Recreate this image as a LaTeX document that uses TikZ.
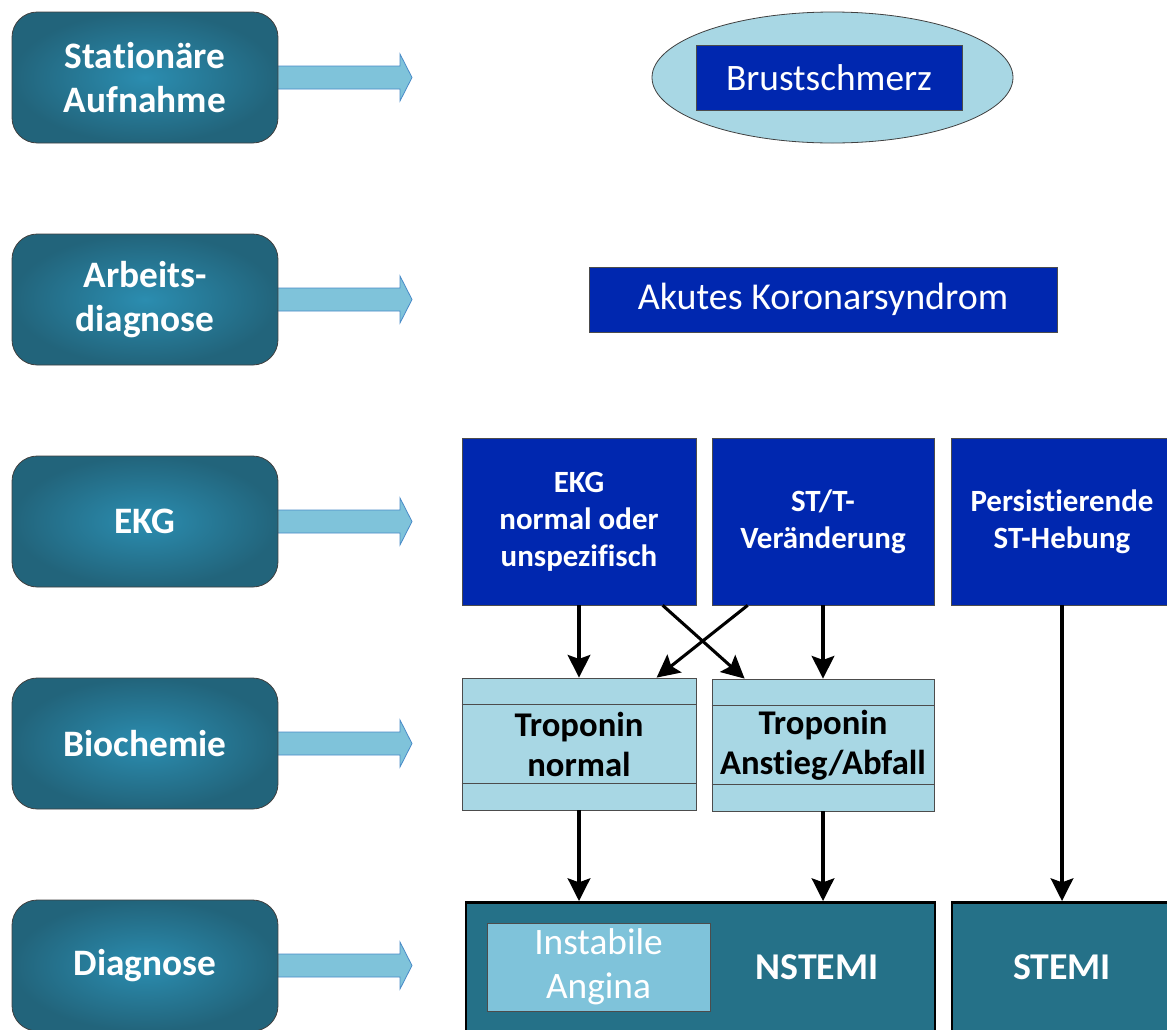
\documentclass[tikz,border=0pt]{standalone}
\usepackage{fontspec}
\setmainfont{Carlito}[Ligatures=NoCommon]
\usetikzlibrary{arrows.meta,shapes.geometric,calc}
\definecolor{leftin}{HTML}{2B8DB0}
\definecolor{leftout}{HTML}{22647B}
\definecolor{barrow}{HTML}{7FC3DA}
\definecolor{barrowline}{HTML}{4A8BC8}
\definecolor{lightbox}{HTML}{A8D7E4}
\definecolor{darkblue}{HTML}{0027AF}
\definecolor{diagteal}{HTML}{257188}
\newcommand\setfs[2]{\fontsize{#1}{#2}\selectfont}
\tikzset{
  leftbox/.style={rounded corners=19pt, draw=black!75, line width=0.6pt,
    inner color=leftin, outer color=leftout, text=white, align=center,
    minimum width=199.5pt, minimum height=98.25pt, inner sep=0pt,
    font=\setfs{28pt}{32.5pt}\bfseries},
  blockarrow/.style={fill=barrow, draw=barrowline, line width=0.6pt},
  bluebox/.style={fill=darkblue, draw=black!70, line width=0.5pt, text=white,
    align=center, inner sep=0pt},
  troponin/.style={fill=lightbox, draw=black!70, line width=0.6pt, align=center,
    inner sep=0pt, font=\setfs{26pt}{30pt}\bfseries},
  diagbox/.style={fill=diagteal, draw=black, line width=2pt, inner sep=0pt},
  conn/.style={line width=2.3pt, -{Stealth[length=17pt,width=17pt,inset=3pt]}},
}
\begin{document}
\begin{tikzpicture}[x=0.75pt,y=-0.75pt]
\clip (0,0) rectangle (1167,1029);
\fill[white] (0,0) rectangle (1167,1029);

% block arrows (drawn first, behind the left boxes)
\foreach \yc in {77.5,299.5,521.5,743.5,965.5}{
  \draw[blockarrow] (272,\yc-11.5) -- (400,\yc-11.5) -- (400,\yc-23.5) -- (412,\yc)
    -- (400,\yc+23.5) -- (400,\yc+11.5) -- (272,\yc+11.5) -- cycle;
}

% left column
\node[leftbox] (L1) at (145,77.5) {Stationäre\\Aufnahme};
\node[leftbox] (L2) at (145,299.5) {Arbeits-\\diagnose};
\node[leftbox] (L3) at (145,521.5) {EKG};
\node[leftbox] (L4) at (145,743.5) {Biochemie};
\node[leftbox] (L5) at (145,965.5) {Diagnose};

% row 1
\node[ellipse, fill=lightbox, draw=black!75, line width=0.6pt,
  minimum width=270.75pt, minimum height=98.25pt, inner sep=0pt] (ell) at (832.5,77.5) {};
\node[bluebox, minimum width=199.5pt, minimum height=48.75pt,
  font=\setfs{28pt}{32pt}] (brust) at (829,77.5) {Brustschmerz};

% row 2
\node[bluebox, minimum width=351pt, minimum height=48.75pt,
  font=\setfs{28.5pt}{32pt}] (aks) at (823,299.5) {Akutes Koronarsyndrom};

% row 3
\node[bluebox, minimum width=175.5pt, minimum height=125.25pt,
  font=\setfs{23.2pt}{27.75pt}\bfseries] (E1) at (579,521.5) {EKG\\normal oder\\unspezifisch};
\node[bluebox, minimum width=166.5pt, minimum height=125.25pt,
  font=\setfs{23.2pt}{27.75pt}\bfseries] (E2) at (823,521.5) {ST/T-\\Veränderung};
\node[bluebox, minimum width=166.5pt, minimum height=125.25pt,
  font=\setfs{23.2pt}{27.75pt}\bfseries] (E3) at (1062,521.5) {Persistierende\\ST-Hebung};

% row 4
\node[troponin, minimum width=175.5pt, minimum height=99pt] (T1) at (579,744) {Troponin\\normal};
\node[troponin, minimum width=166.5pt, minimum height=99pt] (T2) at (823,745) {Troponin\\Anstieg/Abfall};
\foreach \t in {T1,T2}{
  \draw[black!70, line width=0.6pt] ($(\t.north west)+(0,27)$) -- ($(\t.north east)+(0,27)$);
  \draw[black!70, line width=0.6pt] ($(\t.south west)+(0,-27)$) -- ($(\t.south east)+(0,-27)$);
}

% row 5
\node[diagbox, minimum width=351.75pt, minimum height=112.5pt, anchor=north] (N) at (700.5,901) {};
\node[diagbox, minimum width=165pt, minimum height=112.5pt, anchor=north] (S) at (1062,901) {};
\node[fill=barrow, draw=black!70, line width=0.7pt, minimum width=167.25pt, minimum height=66pt,
  inner sep=0pt, text=white, align=center, font=\setfs{28pt}{33pt}] (UA) at (598.5,967) {Instabile\\Angina};
\node[text=white, font=\setfs{28.4pt}{32pt}\bfseries, inner sep=0pt] (NT) at (817,967) {NSTEMI};
\node[text=white, font=\setfs{28.4pt}{32pt}\bfseries, inner sep=0pt] (ST) at (1062,967) {STEMI};

% connectors
\draw[conn] (E1.south) -- (T1.north);
\draw[conn] ($(E1.south west)+(201,0)$) -- ($(T2.north west)+(33,0)$);
\draw[conn] ($(E2.south west)+(36,0)$) -- ($(T1.north west)+(195,0)$);
\draw[conn] (E2.south) -- (T2.north);
\draw[conn] (E3.south) -- (S.north);
\draw[conn] (T1.south) -- (T1.south |- N.north);
\draw[conn] (T2.south) -- (T2.south |- N.north);
\end{tikzpicture}
\end{document}
